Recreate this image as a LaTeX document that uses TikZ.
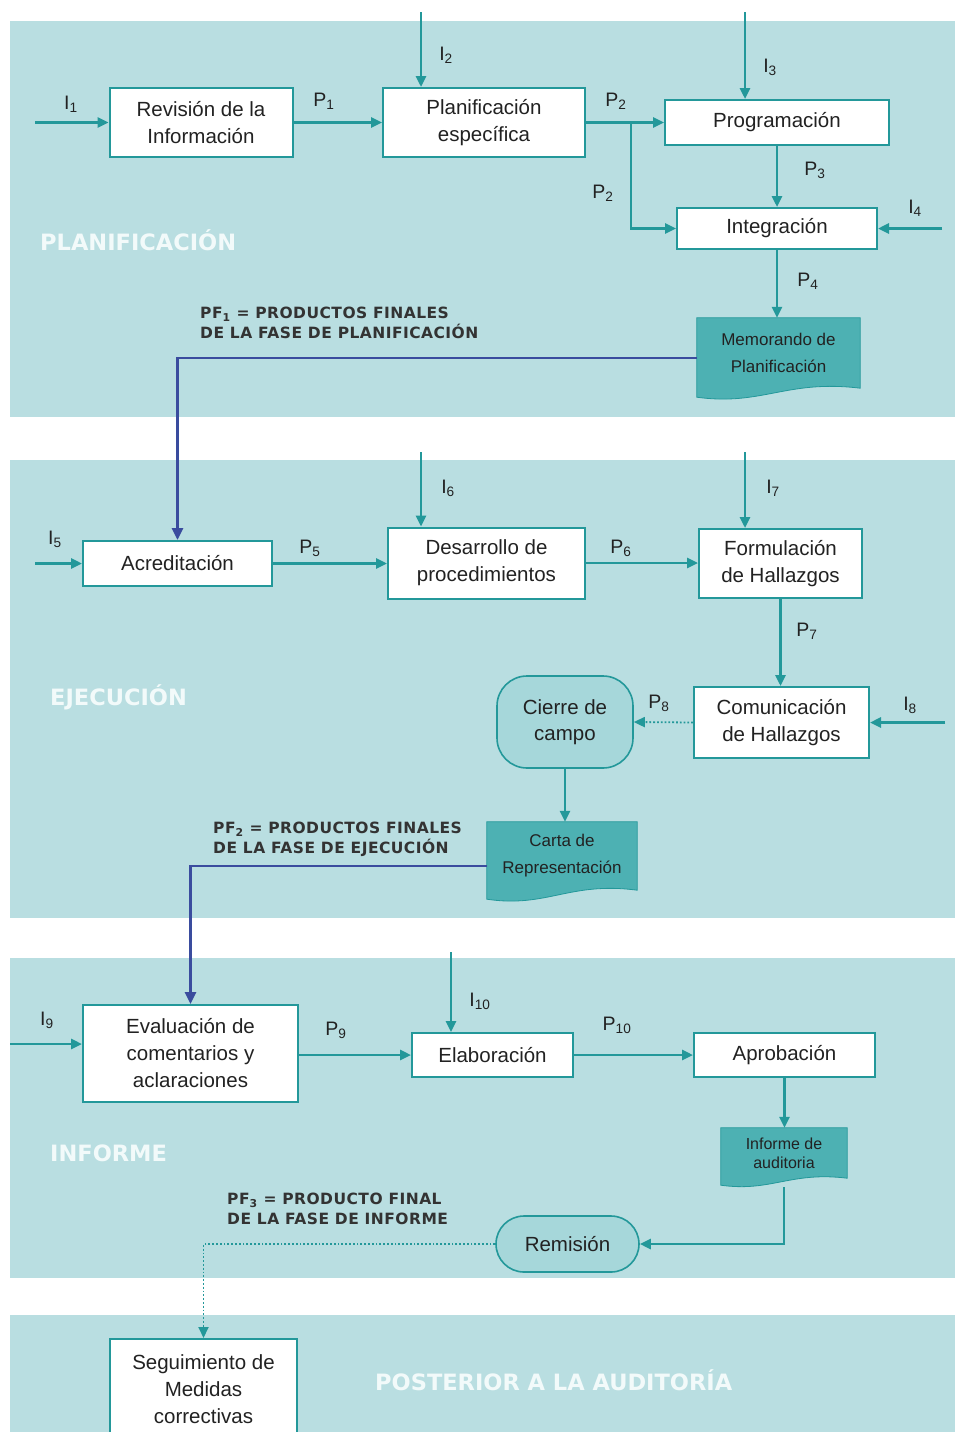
\documentclass[tikz,border=0pt]{standalone}
\usepackage{fontspec}
\setmainfont{Liberation Sans}
\newfontfamily\titlefont[BoldFont={DejaVu Sans Bold}]{DejaVu Sans}
\usetikzlibrary{arrows.meta,shapes.misc,calc}
\definecolor{panel}{HTML}{B9DEE1}
\definecolor{tealc}{HTML}{23989A}
\definecolor{docfill}{HTML}{4DB1B3}
\definecolor{softfill}{HTML}{A6D7DA}
\definecolor{bluec}{HTML}{3A4C9E}
\definecolor{txt}{HTML}{222222}
\definecolor{pftxt}{HTML}{333333}
\definecolor{titlec}{HTML}{F2FAFA}
\pgfdeclarelayer{bg}
\pgfdeclarelayer{docbg}
\pgfsetlayers{bg,docbg,main}
\newcommand\docback[2]{%
  \fill[docfill,draw=tealc,line width=0.8pt] let \p1=(#1.north west), \p2=(#1.south east) in
    (\x1,\y1) -- (\x2,\y1) -- (\x2,\y2)
    .. controls ({\x2-0.45*(\x2-\x1)},{\y2+#2}) and ({\x1+0.4*(\x2-\x1)},{\y2-2*#2}) ..
    (\x1,{\y2-#2}) -- cycle;}
\tikzset{
  procbox/.style={draw=tealc,line width=2pt,fill=white,align=center,inner sep=0pt,
    text=txt,font=\fontsize{20.5}{27}\selectfont},
  docnode/.style={align=center,inner sep=0pt,text=txt,font=\fontsize{17}{27}\selectfont},
  softnode/.style={draw=tealc,line width=1.6pt,fill=softfill,align=center,inner sep=0pt,
    text=txt,font=\fontsize{20.5}{26}\selectfont},
  flow/.style={draw=tealc,line width=2.6pt,-{Triangle[length=11pt,width=10pt]}},
  dotflow/.style={draw=tealc,line width=1.8pt,dotted,-{Triangle[length=11pt,width=10pt]}},
  blueflow/.style={draw=bluec,line width=2.8pt,-{Triangle[length=12pt,width=11pt]}},
  lbl/.style={text=txt,font=\fontsize{19.5}{22}\selectfont,inner sep=0pt},
  pftext/.style={anchor=west,align=left,text=pftxt,inner sep=0pt,
    font=\titlefont\bfseries\fontsize{15.5}{20}\selectfont\addfontfeatures{LetterSpace=3}},
  phase/.style={anchor=west,text=titlec,inner sep=0pt,font=\titlefont\bfseries\fontsize{22.5}{26}\selectfont}
}
\newcommand\sub[1]{\textsubscript{#1}}
\begin{document}
\begin{tikzpicture}[x=1pt,y=-1pt]
\useasboundingbox (0,0) rectangle (958,1432);
\begin{pgfonlayer}{bg}
\fill[white] (0,0) rectangle (958,1432);
\fill[panel] (10,21) rectangle (955,417);
\fill[panel] (10,460) rectangle (955,918);
\fill[panel] (10,958) rectangle (955,1278);
\fill[panel] (10,1315) rectangle (955,1432);
\end{pgfonlayer}

% phase titles
\node[phase] (tPlan) at (40,240) {PLANIFICACIÓN};
\node[phase] (tEjec) at (50,697) {EJECUCIÓN};
\node[phase] (tInf) at (50,1153) {INFORME};
\node[phase] (tPost) at (375,1380) {POSTERIOR A LA AUDITORÍA};

% ---------- Planificacion ----------
\node[procbox,minimum width=183pt,minimum height=69pt] (rev) at (201,122.5) {Revisión de la\\Información};
\node[procbox,minimum width=202pt,minimum height=69pt] (plan) at (484,122.5) {Planificación\\específica};
\node[procbox,minimum width=224pt,minimum height=45pt] (prog) at (777,122.5) {Programación};
\node[procbox,minimum width=200pt,minimum height=41pt] (integ) at (777,228.5) {Integración};
\node[docnode,minimum width=163pt,minimum height=70pt] (memo) at (778.5,353) {Memorando de\\Planificación};
\begin{pgfonlayer}{docbg}\docback{memo}{9pt}\end{pgfonlayer}

\coordinate (i1) at (35,122.5);
\coordinate (i2) at (421,12);
\coordinate (i3) at (745,12);
\coordinate (i4) at (942,228.5);
\coordinate (br) at (631,122.5);

\draw[flow] (i1) -- (rev.west);
\draw[flow] (rev.east) -- (plan.west);
\draw[flow] (i2) -- (i2 |- plan.north);
\draw[flow] (plan.east) -- (prog.west);
\draw[flow] (br) |- (integ.west);
\draw[flow] (i3) -- (i3 |- prog.north);
\draw[flow] (prog.south) -- (integ.north);
\draw[flow] (i4) -- (integ.east);
\draw[flow] (integ.south) -- (integ.south |- memo.north);

\node[lbl] (lI1) at (71,104) {I\sub{1}};
\node[lbl] (lP1) at (324,101) {P\sub{1}};
\node[lbl] (lI2) at (446,55) {I\sub{2}};
\node[lbl] (lP2a) at (616,101) {P\sub{2}};
\node[lbl] (lP2b) at (603,193) {P\sub{2}};
\node[lbl] (lI3) at (770,67) {I\sub{3}};
\node[lbl] (lP3) at (815,170) {P\sub{3}};
\node[lbl] (lI4) at (915,208) {I\sub{4}};
\node[lbl] (lP4) at (808,281) {P\sub{4}};

\node[pftext] (pf1) at (200,323) {PF\sub{1} = PRODUCTOS FINALES\\DE LA FASE DE PLANIFICACIÓN};

% ---------- Ejecucion ----------
\node[procbox,minimum width=189pt,minimum height=45pt] (acr) at (177.5,563.5) {Acreditación};
\node[procbox,minimum width=197pt,minimum height=71pt] (des) at (486.5,563) {Desarrollo de\\procedimientos};
\node[procbox,minimum width=163pt,minimum height=69pt] (form) at (780.5,563.5) {Formulación\\de Hallazgos};
\node[procbox,minimum width=175pt,minimum height=71pt] (com) at (781.5,722.5) {Comunicación\\de Hallazgos};
\node[softnode,rounded corners=30pt,minimum width=136pt,minimum height=92pt] (cierre) at (565,722) {Cierre de\\campo};
\node[docnode,minimum width=150pt,minimum height=68pt] (carta) at (562,856) {Carta de\\Representación};
\begin{pgfonlayer}{docbg}\docback{carta}{9pt}\end{pgfonlayer}

\coordinate (i5) at (35,563.5);
\coordinate (i6) at (421,452);
\coordinate (i7) at (745,452);
\coordinate (i8) at (945,722.5);

\draw[blueflow] ([yshift=-5pt]memo.west) -| (acr.north);
\draw[flow] (i5) -- (acr.west);
\draw[flow] (acr.east) -- (acr.east -| des.west);
\draw[flow] (i6) -- (i6 |- des.north);
\draw[flow] (des.east) -- (des.east -| form.west);
\draw[flow] (i7) -- (i7 |- form.north);
\draw[flow] (form.south) -- (form.south |- com.north);
\draw[flow] (i8) -- (com.east);
\draw[dotflow] (com.west) -- (cierre.east);
\draw[flow] (cierre.south) -- (cierre.south |- carta.north);

\node[lbl] (lI5) at (55,539) {I\sub{5}};
\node[lbl] (lP5) at (310,548) {P\sub{5}};
\node[lbl] (lI6) at (448,488) {I\sub{6}};
\node[lbl] (lP6) at (621,548) {P\sub{6}};
\node[lbl] (lI7) at (773,488) {I\sub{7}};
\node[lbl] (lP7) at (807,631) {P\sub{7}};
\node[lbl] (lP8) at (659,703) {P\sub{8}};
\node[lbl] (lI8) at (910,705) {I\sub{8}};

\node[pftext] (pf2) at (213,839) {PF\sub{2} = PRODUCTOS FINALES\\DE LA FASE DE EJECUCIÓN};

% ---------- Informe ----------
\node[procbox,minimum width=215pt,minimum height=97pt] (eval) at (190.5,1053.5) {Evaluación de\\comentarios y\\aclaraciones};
\node[procbox,minimum width=161pt,minimum height=44pt] (elab) at (492.5,1055) {Elaboración};
\node[procbox,minimum width=181pt,minimum height=44pt] (aprob) at (784.5,1055) {Aprobación};
\node[docnode,minimum width=126pt,minimum height=50pt,font=\fontsize{16}{19}\selectfont] (inf) at (784,1153) {Informe de\\auditoria};
\begin{pgfonlayer}{docbg}\docback{inf}{7pt}\end{pgfonlayer}
\node[softnode,rounded rectangle,minimum width=143pt,minimum height=56pt] (rem) at (567.5,1244) {Remisión};

\coordinate (i9) at (10,1044);
\coordinate (i10) at (451,952);
\coordinate (infb) at (784,1187);

\draw[blueflow] ([yshift=-10pt]carta.west) -| (eval.north);
\draw[flow] (i9) -- (i9 -| eval.west);
\draw[flow] (eval.east |- elab.west) -- (elab.west);
\draw[flow] (i10) -- (i10 |- elab.north);
\draw[flow] (elab.east) -- (aprob.west);
\draw[flow] (aprob.south) -- (aprob.south |- inf.north);
\draw[flow] (infb) |- (rem.east);

\node[lbl] (lI9) at (47,1020) {I\sub{9}};
\node[lbl] (lP9) at (336,1030) {P\sub{9}};
\node[lbl] (lI10) at (480,1001) {I\sub{10}};
\node[lbl] (lP10) at (617,1025) {P\sub{10}};

\node[pftext] (pf3) at (227,1209) {PF\sub{3} = PRODUCTO FINAL\\DE LA FASE DE INFORME};

% ---------- Posterior ----------
\node[procbox,minimum width=187pt,minimum height=100pt] (seg) at (203.5,1389) {Seguimiento de\\Medidas\\correctivas};
\draw[dotflow] (rem.west) -| (seg.north);
\end{tikzpicture}
\end{document}
